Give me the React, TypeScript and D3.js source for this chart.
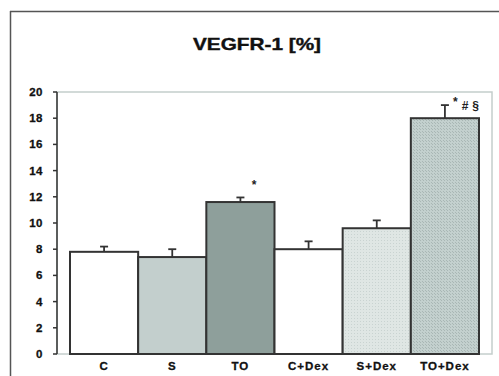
import React from "react";
import * as d3 from "d3";

const categories = ["C", "S", "TO", "C+Dex", "S+Dex", "TO+Dex"];
const values = [7.8, 7.4, 11.6, 8.0, 9.6, 18.0];
const errors = [0.4, 0.6, 0.35, 0.6, 0.6, 1.0];
const fills = ["#ffffff", "#c3cfcd", "#8e9f9b", "#ffffff", "#d9e1df", "#bccac8"];
const marks = ["", "", "*", "", "", "* # §"];
const yTicks = [0, 2, 4, 6, 8, 10, 12, 14, 16, 18, 20];

const W = 499, H = 376;
const plot = { left: 57, right: 492, top: 92, bottom: 354 };

export default function App() {
  const y = d3.scaleLinear().domain([0, 20]).range([plot.bottom, plot.top]);
  const x = d3.scaleBand().domain(categories).range([70, 479]).padding(0);
  const font = "'Liberation Sans', Arial, sans-serif";
  return (
    <svg width={W} height={H} style={{ position: "absolute", left: 0, top: 0 }}>
      <defs>
        <pattern id="dots1" width="3" height="3" patternUnits="userSpaceOnUse">
          <rect width="3" height="3" fill="#dfe6e4" />
          <rect width="1" height="1" fill="#c9d3d1" />
        </pattern>
        <pattern id="dots2" width="3" height="3" patternUnits="userSpaceOnUse">
          <rect width="3" height="3" fill="#c3d0ce" />
          <rect width="1" height="1" fill="#a9b7b5" />
          <rect x="2" y="2" width="1" height="1" fill="#a9b7b5" />
        </pattern>
      </defs>
      <rect x={0} y={0} width={W} height={H} fill="#fff" />
      {/* outer frame */}
      <line x1={10.5} y1={11} x2={10.5} y2={H} stroke="#555" strokeWidth={1.5} />
      <line x1={10} y1={11.5} x2={W} y2={11.5} stroke="#555" strokeWidth={1.5} />
      {/* title */}
      <text x={257} y={50} textAnchor="middle" fontFamily={font} fontWeight="bold" fontSize={17} fill="#111" stroke="#111" strokeWidth={0.4} textLength={128} lengthAdjust="spacingAndGlyphs">
        VEGFR-1 [%]
      </text>
      {/* plot border */}
      <rect x={plot.left} y={plot.top} width={plot.right - plot.left} height={plot.bottom - plot.top} fill="none" stroke="#c4cecc" strokeWidth={1.5} />
      {/* bars */}
      {categories.map((c, i) => {
        const fill = i === 4 ? "url(#dots1)" : i === 5 ? "url(#dots2)" : fills[i];
        const bx = x(c)!;
        const bw = x.bandwidth();
        const cx = bx + bw / 2;
        const top = y(values[i]);
        const et = y(values[i] + errors[i]);
        return (
          <g key={c}>
            <line x1={cx} x2={cx} y1={top} y2={et} stroke="#333" strokeWidth={1.8} />
            <line x1={cx - 4} x2={cx + 4} y1={et} y2={et} stroke="#333" strokeWidth={1.8} />
            <rect x={bx} y={top} width={bw} height={plot.bottom - top} fill={fill} stroke="#333" strokeWidth={2} />
            <text x={cx} y={370} textAnchor="middle" fontFamily={font} fontWeight="bold" fontSize={11.5} fill="#111" stroke="#111" strokeWidth={0.3} letterSpacing={1}>
              {c}
            </text>
          </g>
        );
      })}
      {/* significance marks */}
      <text x={254} y={189} textAnchor="middle" fontFamily={font} fontWeight="bold" fontSize={12} fill="#222">
        {marks[2]}
      </text>
      <text x={453} y={110} fontFamily={font} fontWeight="bold" fontSize={12} fill="#222">
        <tspan dy={-4}>*</tspan>
        <tspan dy={4} dx={4}>#</tspan>
        <tspan dx={4}>§</tspan>
      </text>
      {/* y axis */}
      <line x1={plot.left} x2={plot.left} y1={plot.top} y2={plot.bottom} stroke="#333" strokeWidth={1.5} />
      {yTicks.map((t) => (
        <g key={t}>
          <line x1={plot.left - 4} x2={plot.left} y1={y(t)} y2={y(t)} stroke="#333" strokeWidth={1.5} />
          <text x={43} y={y(t) + 4} textAnchor="end" fontFamily={font} fontWeight="bold" fontSize={11.5} fill="#111" stroke="#111" strokeWidth={0.3} letterSpacing={0.5}>
            {t}
          </text>
        </g>
      ))}
    </svg>
  );
}
